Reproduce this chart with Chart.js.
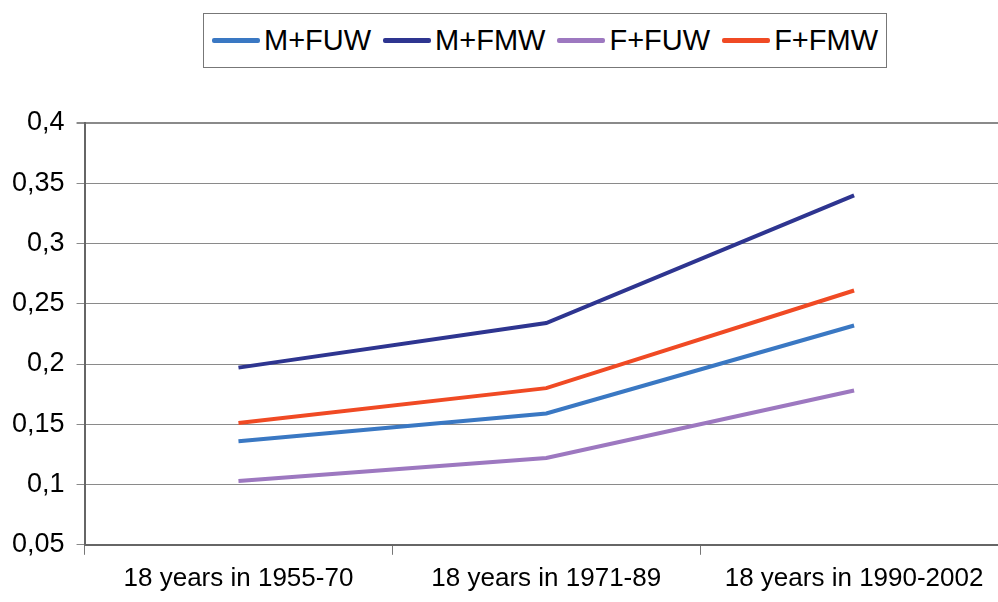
<!DOCTYPE html>
<html>
<head>
<meta charset="utf-8">
<script src="https://cdn.jsdelivr.net/npm/chart.js@4"></script>
<style>
  html, body { margin: 0; padding: 0; background: #fff; overflow: hidden; }
  #wrap { position: relative; width: 998px; height: 602px; overflow: hidden; }
  #myChart { position: absolute; left: 0; top: 0; }
  #legend {
    position: absolute; left: 203px; top: 13px; width: 682px; height: 53px;
    border: 1px solid #777; box-sizing: content-box;
    display: flex; align-items: center; justify-content: center;
    font-family: "Liberation Sans", Arial, sans-serif; font-size: 29px; color: #000;
  }
  .item { display: flex; align-items: center; margin: 0 6px; }
  .swatch { width: 48px; height: 5px; border-radius: 2px; margin-right: 4px; }
</style>
</head>
<body>
<div id="wrap">
  <div id="legend"></div>
  <canvas id="myChart" width="1008" height="602"></canvas>
</div>
<script>
// categories on the x axis
const categories = ['18 years in 1955-70', '18 years in 1971-89', '18 years in 1990-2002'];
// series names and colours
const seriesNames = ['M+FUW', 'M+FMW', 'F+FUW', 'F+FMW'];
const seriesColors = ['#3a78c3', '#2e3590', '#9d78c0', '#f04a24'];
// values
const mFuw = [0.136, 0.159, 0.232];
const mFmw = [0.197, 0.234, 0.340];
const fFuw = [0.103, 0.122, 0.178];
const fFmw = [0.151, 0.180, 0.261];
// y tick labels
const yTicks = [0.05, 0.1, 0.15, 0.2, 0.25, 0.3, 0.35, 0.4];

const seriesValues = [mFuw, mFmw, fFuw, fFmw];

//build the legend box from the series
const legend = document.getElementById('legend');
seriesNames.forEach(function (name, i) {
    const item = document.createElement('div');
    item.className = 'item';
    item.innerHTML = '<div class="swatch" style="background:' + seriesColors[i] + '"></div><span>' + name + '</span>';
    legend.appendChild(item);
});

const chart = document.getElementById('myChart');
const font = "'Liberation Sans', Arial, sans-serif";

let myChart = new Chart(chart, {
    type: 'line',
    data: {
        labels: categories,
        datasets: seriesNames.map(function (name, i) {
            return {
                label: name,
                data: seriesValues[i],
                borderColor: seriesColors[i],
                backgroundColor: seriesColors[i],
                borderWidth: 4,
                pointRadius: 0,
                tension: 0
            };
        })
    },
    options: {
        responsive: false,
        animation: false,
        layout: { padding: { top: 123, left: 0, right: 0, bottom: 0 } },
        plugins: {
            legend: { display: false },
            tooltip: { enabled: false }
        },
        scales: {
            x: {
                offset: true,
                grid: {
                    offset: true,
                    drawOnChartArea: false,
                    drawTicks: true,
                    tickLength: 10,
                    color: '#777',
                    lineWidth: 1
                },
                border: { color: '#666', width: 2 },
                ticks: {
                    color: '#000',
                    padding: 8,
                    maxRotation: 0,
                    font: { family: font, size: 26 }
                }
            },
            y: {
                min: 0.05,
                max: 0.4,
                afterBuildTicks: function (axis) {
                    axis.ticks = yTicks.map(v => ({ value: v }));
                },
                grid: {
                    color: '#8a8a8a',
                    lineWidth: function (ctx) { return ctx.tick && ctx.tick.value === 0.4 ? 2 : 1; },
                    tickLength: 8
                },
                border: { color: '#666', width: 2 },
                ticks: {
                    color: '#000',
                    padding: 12,
                    font: { family: font, size: 27 },
                    callback: function (v) { return String(+v.toFixed(2)).replace('.', ','); }
                }
            }
        }
    }
});
</script>
</body>
</html>
